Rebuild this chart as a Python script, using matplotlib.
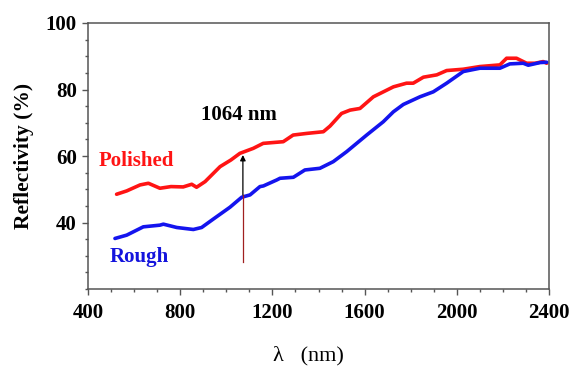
import matplotlib
matplotlib.use("Agg")
import matplotlib.pyplot as plt
from matplotlib.ticker import MultipleLocator

plt.rcParams['font.family'] = ['Liberation Serif', 'DejaVu Serif']

# Polished surface
pol_x = [524, 568, 626, 662, 712, 760, 813, 850, 871, 908, 973, 1020, 1059, 1117, 1160,
         1247, 1290, 1350, 1421, 1450, 1500, 1537, 1580, 1638, 1725, 1782, 1811, 1855,
         1913, 1956, 2028, 2100, 2187, 2216, 2259, 2303, 2340, 2375, 2390]
pol_y = [48.5, 49.5, 51.3, 51.8, 50.3, 50.8, 50.7, 51.5, 50.6, 52.3, 56.8, 58.8, 60.8,
         62.3, 63.8, 64.3, 66.3, 66.8, 67.3, 69.0, 72.8, 73.8, 74.3, 77.8, 80.8, 81.9,
         81.9, 83.7, 84.4, 85.7, 86.1, 86.9, 87.4, 89.4, 89.4, 87.9, 87.9, 88.4, 87.9]

# Rough surface
rou_x = [517, 568, 640, 712, 727, 785, 857, 893, 943, 1016, 1067, 1103, 1146, 1161, 1219,
         1233, 1291, 1341, 1406, 1464, 1522, 1609, 1681, 1725, 1768, 1840, 1898, 1956,
         2028, 2100, 2187, 2230, 2288, 2310, 2361, 2390]
rou_y = [35.2, 36.2, 38.7, 39.2, 39.5, 38.5, 37.9, 38.5, 41.0, 44.6, 47.6, 48.3, 50.8,
         51.0, 52.8, 53.3, 53.6, 55.8, 56.3, 58.3, 61.3, 66.3, 70.3, 73.3, 75.5, 77.8,
         79.3, 81.9, 85.4, 86.4, 86.4, 87.7, 87.9, 87.3, 88.1, 88.2]

x_ticks = [400, 800, 1200, 1600, 2000, 2400]
y_ticks = [40, 60, 80, 100]

fig = plt.figure(figsize=(5.71, 3.67), dpi=100)
ax = fig.add_axes([88/571, 1-289/367, (549-88)/571, (289-23)/367])

ax.plot(pol_x, pol_y, color='#ff1414', lw=2.6, solid_capstyle='round')
ax.plot(rou_x, rou_y, color='#1414ee', lw=2.6, solid_capstyle='round')

ax.set_xlim(400, 2400)
ax.set_ylim(20, 100)
ax.set_xticks(x_ticks)
ax.set_yticks(y_ticks)
ax.xaxis.set_minor_locator(MultipleLocator(100))
ax.yaxis.set_minor_locator(MultipleLocator(5))
ax.tick_params(which='major', direction='out', length=4, width=1, color='#555555',
               labelsize=15)
ax.tick_params(axis='x', which='major', pad=6)
ax.tick_params(axis='y', which='major', pad=4)
ax.tick_params(which='minor', direction='out', length=2.5, width=1, color='#555555')
for lab in ax.get_xticklabels() + ax.get_yticklabels():
    lab.set_fontweight('bold')
for s in ax.spines.values():
    s.set_color('#555555')
    s.set_linewidth(1.1)

# annotation arrow at 1064 nm
ax.plot([1072, 1072], [28.0, 48.3], color='#a02020', lw=0.9)
ax.annotate('', xy=(1072, 60.3), xytext=(1072, 48.3),
            arrowprops=dict(arrowstyle='-|>', color='black', lw=0.9,
                            mutation_scale=8, shrinkA=0, shrinkB=0))
ax.text(1053, 72.3, '1064 nm', fontsize=15, fontweight='bold', ha='center', va='center')
ax.text(610, 58.5, 'Polished', fontsize=15, fontweight='bold', color='#ff1414',
        ha='center', va='center')
ax.text(623, 29.7, 'Rough', fontsize=15, fontweight='bold', color='#1414dd',
        ha='center', va='center')

fig.text(24/571, 1-156/367, 'Reflectivity (%)', rotation=90, fontsize=15.5,
         fontweight='bold', ha='center', va='center')
fig.text(308/571, 1-356/367, 'λ   (nm)', fontsize=16, ha='center', va='center')

fig.savefig('out.png', dpi=100)
